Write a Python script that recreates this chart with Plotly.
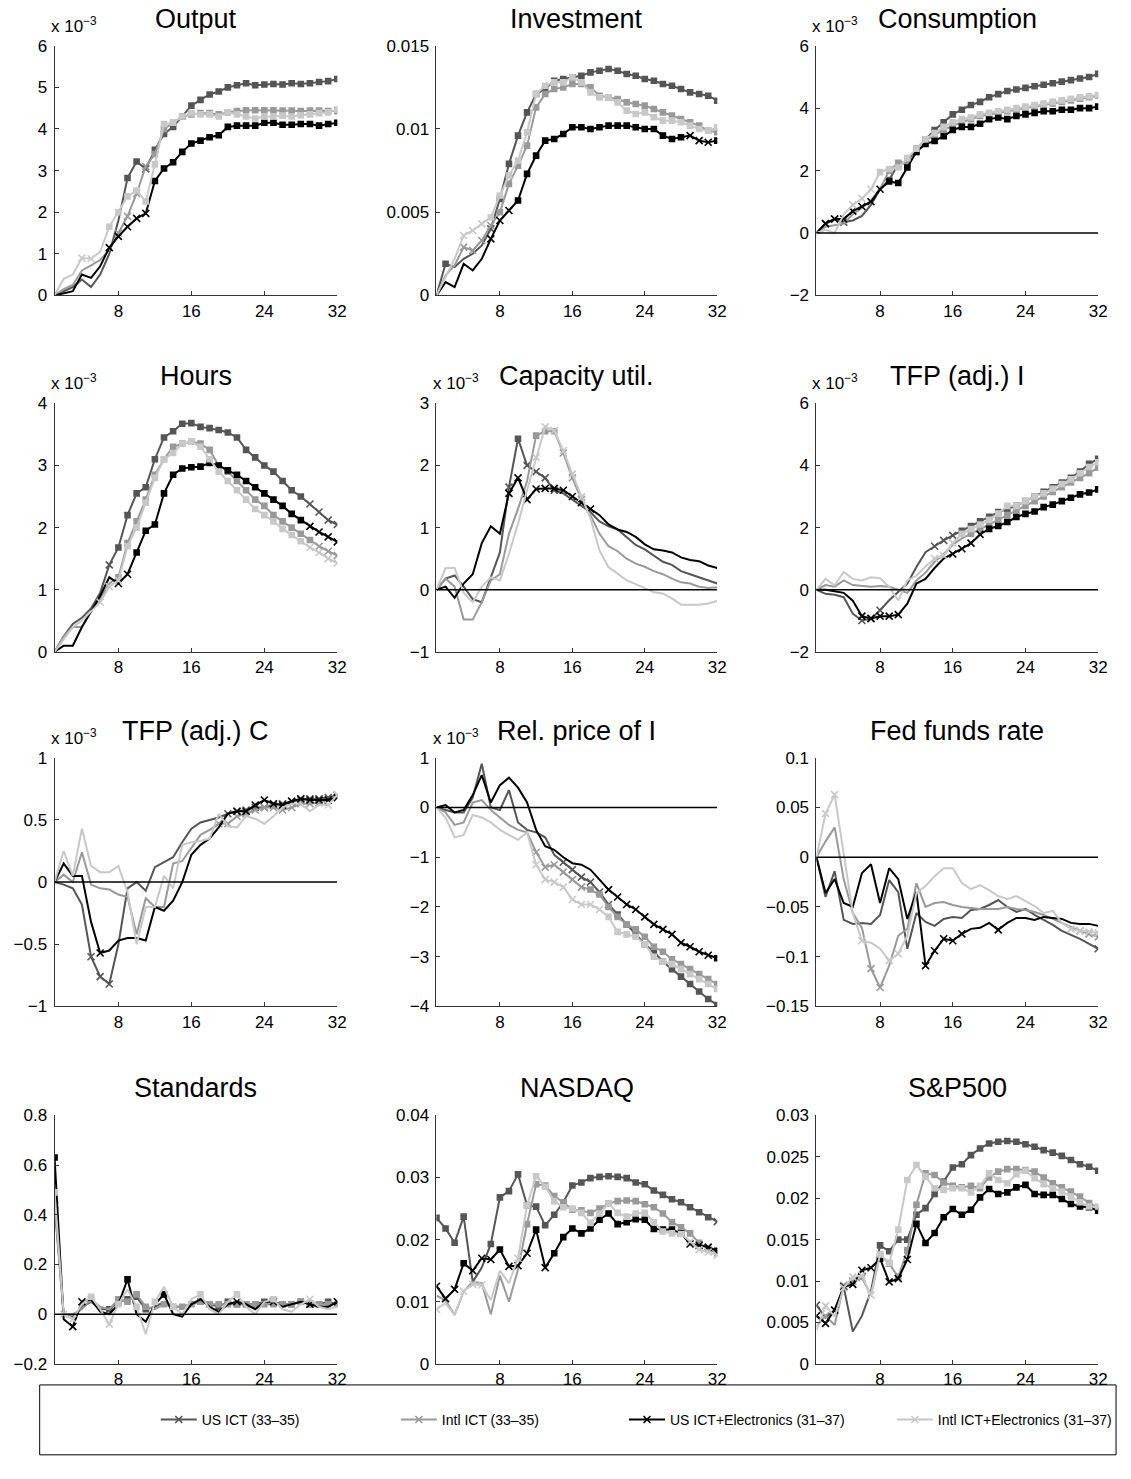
import plotly.graph_objects as go

# Canvas size in pixels
W, H = 1131, 1479

# The captured page is squeezed vertically (about 8 px of padding above and below),
# so vertical pixel positions are pre-compensated.
Y_OFFSET, Y_SCALE = 8.2, 0.9885


def px_x(p):
    return p / W


def px_y(p):
    return 1 - ((p - Y_OFFSET) / Y_SCALE) / H


periods = list(range(1, 33))

series_names = ["US ICT (33\u201335)", "Intl ICT (33\u201335)",
                "US ICT+Electronics (31\u201337)", "Intl ICT+Electronics (31\u201337)"]
series_colors = ["#555555", "#999999", "#000000", "#c8c8c8"]

# ---- Impulse responses (values in units of the axis labels; x 10^-3 where marked) ----
# Significance strings: 0 = not significant, 1 = weak (cross), 2 = strong (square)

output_us = [0, 0.1, 0.2, 0.38, 0.2, 0.5, 1.0, 1.8, 2.82, 3.22, 3.04, 3.5, 3.88, 4.05, 4.3, 4.56,
             4.7, 4.83, 4.9, 5.0, 5.05, 5.1, 5.05, 5.07, 5.08, 5.07, 5.1, 5.08, 5.1, 5.13, 5.15, 5.2]
output_intl = [0, 0.15, 0.25, 0.6, 0.72, 0.85, 1.1, 1.5, 1.9, 2.45, 3.1, 3.4, 4.0, 4.15, 4.3, 4.35,
               4.38, 4.38, 4.35, 4.4, 4.43, 4.45, 4.45, 4.45, 4.45, 4.44, 4.44, 4.43, 4.44, 4.44, 4.43, 4.43]
output_us_el = [0, 0.05, 0.1, 0.5, 0.42, 0.7, 1.15, 1.42, 1.65, 1.85, 1.97, 2.75, 3.05, 3.2, 3.45, 3.65,
                3.72, 3.8, 3.85, 4.05, 4.08, 4.08, 4.08, 4.15, 4.15, 4.1, 4.1, 4.12, 4.12, 4.08, 4.12, 4.15]
output_intl_el = [0, 0.4, 0.5, 0.9, 0.88, 1.05, 1.65, 2.0, 2.38, 2.52, 2.26, 3.15, 4.12, 4.15, 4.3, 4.38,
                  4.35, 4.35, 4.3, 4.4, 4.35, 4.3, 4.25, 4.3, 4.3, 4.32, 4.3, 4.33, 4.35, 4.38, 4.4, 4.47]
output_sig = ["00000000 22122222 22222222 22222222", "00000001 11122222 22222222 22222222",
              "00000011 11122222 22222222 22222222", "00011022 22222222 22222222 22222222"]

inv_us = [0, 0.0019, 0.0017, 0.0022, 0.0025, 0.0030, 0.0040, 0.0058, 0.0079, 0.0096, 0.0110, 0.0121,
          0.0124, 0.0129, 0.0130, 0.0131, 0.0132, 0.0134, 0.0135, 0.0136, 0.0135, 0.0133, 0.0132, 0.0130,
          0.0129, 0.0127, 0.0126, 0.0124, 0.0122, 0.0121, 0.0120, 0.0117]
inv_intl = [0, 0.0012, 0.0018, 0.0029, 0.0027, 0.0033, 0.0042, 0.0050, 0.0067, 0.0078, 0.0090, 0.0113,
            0.0121, 0.0124, 0.0125, 0.0127, 0.0127, 0.0125, 0.0120, 0.0119, 0.0118, 0.0116, 0.0115, 0.0114,
            0.0112, 0.0110, 0.0108, 0.0106, 0.0104, 0.0102, 0.0099, 0.0098]
inv_us_el = [0, 0.0008, 0.0005, 0.0019, 0.0015, 0.0022, 0.0034, 0.0045, 0.0051, 0.0057, 0.0073, 0.0084,
             0.0093, 0.0094, 0.0097, 0.0101, 0.0101, 0.0100, 0.0101, 0.0102, 0.0102, 0.0102, 0.0101, 0.0100,
             0.0100, 0.0096, 0.0094, 0.0095, 0.0096, 0.0093, 0.0092, 0.0093]
inv_intl_el = [0, 0.0011, 0.0022, 0.0036, 0.0039, 0.0043, 0.0047, 0.0060, 0.0072, 0.0081, 0.0098, 0.0121,
               0.0126, 0.0128, 0.0128, 0.0131, 0.0128, 0.0122, 0.0119, 0.0119, 0.0116, 0.0111, 0.0109, 0.0110,
               0.0107, 0.0105, 0.0105, 0.0104, 0.0102, 0.0100, 0.0099, 0.0101]
inv_sig = ["02000012 22222222 22222222 22222222", "00011112 22222222 22222222 22222222",
           "00000011 12222222 22222222 22221112", "00011122 22222222 22222222 22222222"]

cons_us = [0, 0.3, 0.45, 0.35, 0.4, 0.55, 0.9, 1.4, 1.7, 2.2, 2.3, 2.7, 3.0, 3.3, 3.55, 3.8,
           3.95, 4.1, 4.2, 4.35, 4.45, 4.55, 4.6, 4.65, 4.7, 4.75, 4.8, 4.85, 4.9, 4.95, 5.0, 5.1]
cons_intl = [0, 0.2, 0.25, 0.3, 0.6, 0.8, 1.05, 1.4, 2.0, 2.25, 2.2, 2.6, 2.95, 3.15, 3.3, 3.45,
             3.55, 3.65, 3.75, 3.8, 3.85, 3.9, 3.95, 4.0, 4.05, 4.1, 4.15, 4.2, 4.25, 4.3, 4.35, 4.4]
cons_us_el = [0, 0.3, 0.45, 0.45, 0.7, 0.85, 1.0, 1.4, 1.65, 1.6, 2.1, 2.6, 2.85, 2.95, 3.1, 3.3,
              3.4, 3.4, 3.5, 3.65, 3.7, 3.65, 3.75, 3.8, 3.85, 3.9, 3.9, 3.95, 3.95, 4.0, 4.0, 4.05]
cons_intl_el = [0, 0.1, 0.0, 0.6, 0.9, 1.1, 1.4, 1.95, 2.05, 2.1, 2.4, 2.7, 3.0, 3.2, 3.4, 3.55,
                3.65, 3.7, 3.8, 3.85, 3.9, 3.95, 4.0, 4.05, 4.1, 4.15, 4.2, 4.25, 4.3, 4.35, 4.38, 4.42]
cons_sig = ["01110000 22222222 22222222 22222222", "00000000 22222222 22222222 22222222",
            "01111111 22222222 22222222 22222222", "00001112 22222222 22222222 22222222"]

hours_us = [0, 0.25, 0.45, 0.55, 0.7, 0.95, 1.4, 1.68, 2.2, 2.55, 2.65, 3.1, 3.45, 3.55, 3.67, 3.68,
            3.62, 3.6, 3.57, 3.53, 3.45, 3.25, 3.13, 3.0, 2.9, 2.75, 2.6, 2.5, 2.38, 2.25, 2.12, 2.05]
hours_intl = [0, 0.25, 0.4, 0.4, 0.65, 0.85, 1.1, 1.2, 1.75, 2.1, 2.45, 2.85, 3.1, 3.3, 3.35, 3.38,
              3.35, 3.25, 3.0, 2.9, 2.75, 2.6, 2.45, 2.35, 2.2, 2.1, 2.0, 1.9, 1.8, 1.7, 1.62, 1.55]
hours_us_el = [0, 0.1, 0.1, 0.4, 0.65, 0.9, 1.2, 1.1, 1.25, 1.6, 1.95, 2.05, 2.55, 2.85, 2.95, 2.97,
               2.98, 3.04, 3.0, 2.92, 2.85, 2.75, 2.65, 2.55, 2.45, 2.35, 2.22, 2.12, 2.02, 1.93, 1.85, 1.77]
hours_intl_el = [0, 0.2, 0.4, 0.5, 0.65, 0.8, 1.05, 1.15, 1.7, 2.0, 2.4, 2.8, 3.1, 3.2, 3.35, 3.38,
                 3.3, 3.1, 2.9, 2.75, 2.6, 2.45, 2.3, 2.2, 2.1, 1.98, 1.88, 1.78, 1.68, 1.6, 1.5, 1.43]
hours_sig = ["00000012 22222222 22222222 22221111", "00000002 22222222 22222222 22222111",
             "00000001 12222222 22222222 22221111", "00000111 22222222 22222222 22221111"]

cap_us = [0, 0.18, 0.23, 0.05, -0.15, -0.2, 0.2, 0.6, 1.65, 2.43, 2.0, 1.9, 1.8, 1.6, 1.55, 1.45,
          1.35, 1.25, 1.1, 1.02, 0.97, 0.85, 0.72, 0.65, 0.55, 0.45, 0.4, 0.3, 0.25, 0.2, 0.15, 0.1]
cap_intl = [0, 0.18, 0.05, -0.48, -0.48, -0.2, 0.15, 0.25, 0.9, 1.3, 1.75, 2.48, 2.55, 2.55, 2.2, 1.8,
            1.45, 1.2, 0.9, 0.7, 0.62, 0.5, 0.42, 0.37, 0.3, 0.25, 0.18, 0.12, 0.1, 0.05, 0.03, 0.04]
cap_us_el = [0, 0.05, -0.13, 0.1, 0.25, 0.75, 1.02, 0.9, 1.55, 1.8, 1.45, 1.62, 1.63, 1.63, 1.6, 1.5,
             1.4, 1.3, 1.2, 1.05, 0.97, 0.93, 0.85, 0.73, 0.65, 0.63, 0.6, 0.52, 0.48, 0.46, 0.39, 0.35]
cap_intl_el = [0, 0.35, 0.35, -0.05, -0.2, 0.05, 0.2, 0.15, 0.58, 1.06, 1.6, 2.13, 2.62, 2.56, 2.24, 1.86,
               1.49, 1.15, 0.63, 0.36, 0.26, 0.15, 0.09, 0.02, -0.04, -0.06, -0.14, -0.24, -0.24, -0.24, -0.22, -0.18]
cap_sig = ["00000000 12111100 00000000 00000000", "00000000 00022211 10000000 00000000",
           "00000000 11111111 11000000 00000000", "00000000 00011111 10000000 00000000"]

tfpi_us = [0, -0.13, -0.16, -0.24, -0.77, -0.99, -0.93, -0.66, -0.34, -0.07, 0.2, 0.73, 1.21, 1.4, 1.59, 1.75,
           1.9, 2.05, 2.2, 2.35, 2.5, 2.6, 2.7, 2.85, 3.0, 3.15, 3.3, 3.45, 3.6, 3.8, 4.05, 4.21]
tfpi_intl = [0, 0.15, 0.1, 0.3, 0.15, 0.12, 0.1, 0.12, 0.1, 0.0, -0.1, 0.3, 0.55, 0.9, 1.15, 1.45,
             1.65, 1.8, 1.95, 2.1, 2.25, 2.4, 2.55, 2.7, 2.85, 3.0, 3.15, 3.3, 3.45, 3.6, 3.75, 3.93]
tfpi_us_el = [0, 0, -0.05, -0.1, -0.35, -0.85, -0.92, -0.85, -0.85, -0.8, -0.45, 0.2, 0.35, 0.7, 1.0, 1.15,
              1.32, 1.5, 1.78, 1.96, 2.05, 2.18, 2.34, 2.44, 2.52, 2.66, 2.74, 2.85, 2.96, 3.07, 3.13, 3.23]
tfpi_intl_el = [0, 0.35, 0.14, 0.57, 0.35, 0.3, 0.4, 0.37, 0.09, -0.34, 0.3, 0.45, 0.75, 1.0, 1.1, 1.5,
                1.8, 1.95, 2.1, 2.25, 2.45, 2.7, 2.7, 2.85, 3.0, 3.1, 3.25, 3.4, 3.55, 3.75, 3.95, 4.1]
tfpi_sig = ["00000111 00000111 22222222 22222222", "00000000 00000000 02222222 22222222",
            "00000111 11000001 11122222 22222222", "00000000 00000111 22222222 22222222"]

tfpc_us = [0, -0.02, -0.05, -0.18, -0.6, -0.76, -0.82, -0.5, -0.05, 0.0, -0.07, 0.12, 0.16, 0.2, 0.32, 0.43,
           0.48, 0.5, 0.52, 0.55, 0.57, 0.58, 0.6, 0.6, 0.62, 0.63, 0.65, 0.66, 0.67, 0.67, 0.68, 0.7]
tfpc_intl = [0, 0.06, 0.0, 0.24, -0.02, -0.05, -0.06, -0.1, -0.12, -0.42, -0.13, -0.2, -0.2, 0.15, 0.17, 0.28,
             0.38, 0.42, 0.47, 0.47, 0.53, 0.55, 0.58, 0.6, 0.6, 0.58, 0.6, 0.63, 0.63, 0.64, 0.66, 0.7]
tfpc_us_el = [0, 0.15, 0.05, 0.05, -0.32, -0.57, -0.55, -0.47, -0.45, -0.45, -0.47, -0.2, -0.23, -0.15, 0.0, 0.22,
              0.3, 0.35, 0.44, 0.55, 0.57, 0.57, 0.62, 0.66, 0.63, 0.62, 0.65, 0.67, 0.66, 0.66, 0.66, 0.68]
tfpc_intl_el = [0, 0.25, 0.05, 0.43, 0.13, 0.08, 0.08, 0.13, -0.08, -0.5, -0.2, -0.2, 0.05, -0.05, 0.3, 0.32,
                0.33, 0.35, 0.55, 0.45, 0.44, 0.53, 0.51, 0.47, 0.53, 0.6, 0.63, 0.63, 0.57, 0.62, 0.62, 0.7]
tfpc_sig = ["00001110 00000000 00011111 11111111", "00000000 00000000 00111111 11111111",
            "00000100 00000000 00001111 11111111", "00000000 00000000 00000000 00000011"]

rp_us = [0, -0.05, -0.1, -0.1, 0.2, 0.88, 0.0, -0.05, 0.35, -0.3, -0.45, -0.5, -0.6, -0.95, -1.1, -1.25,
         -1.4, -1.5, -1.7, -1.95, -2.15, -2.35, -2.55, -2.75, -2.9, -3.1, -3.25, -3.4, -3.55, -3.7, -3.85, -3.97]
rp_intl = [0, -0.1, -0.35, -0.3, 0.1, 0.15, -0.05, -0.2, -0.35, -0.45, -0.5, -0.9, -1.2, -1.15, -1.3, -1.45,
           -1.6, -1.65, -1.75, -2.0, -2.2, -2.35, -2.45, -2.6, -2.8, -2.9, -3.05, -3.15, -3.25, -3.35, -3.45, -3.55]
rp_us_el = [0, 0.05, -0.1, -0.05, 0.25, 0.65, 0.1, 0.45, 0.6, 0.4, 0.1, -0.45, -0.78, -0.85, -1.0, -1.12,
            -1.15, -1.25, -1.45, -1.65, -1.8, -1.95, -2.05, -2.2, -2.35, -2.45, -2.55, -2.72, -2.8, -2.9, -2.97, -3.03]
rp_intl_el = [0, -0.2, -0.6, -0.55, -0.15, -0.2, -0.3, -0.45, -0.55, -0.65, -0.5, -1.15, -1.45, -1.5, -1.6, -1.85,
              -1.95, -1.95, -2.05, -2.2, -2.5, -2.55, -2.6, -2.75, -3.0, -3.1, -3.15, -3.25, -3.35, -3.45, -3.55, -3.65]
rp_sig = ["00000000 00000011 11112222 22222222", "00000000 00011111 12222222 22222222",
          "00000000 00000000 00011111 11111112", "00000000 00011111 11122222 22222222"]

ff_us = [0, -0.04, -0.014, -0.063, -0.067, -0.066, -0.067, -0.058, -0.023, -0.035, -0.092, -0.056, -0.065,
         -0.069, -0.062, -0.06, -0.061, -0.053, -0.052, -0.048, -0.043, -0.05, -0.055, -0.052, -0.058, -0.063,
         -0.068, -0.074, -0.078, -0.082, -0.087, -0.092]
ff_intl = [0, 0.016, 0.03, -0.022, -0.056, -0.071, -0.112, -0.131, -0.109, -0.079, -0.072, -0.026, -0.05,
           -0.046, -0.045, -0.048, -0.05, -0.051, -0.052, -0.052, -0.052, -0.05, -0.052, -0.053, -0.055, -0.058,
           -0.062, -0.066, -0.07, -0.074, -0.077, -0.08]
ff_us_el = [0, -0.036, -0.022, -0.046, -0.05, -0.016, -0.007, -0.046, -0.011, -0.022, -0.062, -0.035, -0.109,
            -0.094, -0.082, -0.084, -0.077, -0.072, -0.071, -0.066, -0.073, -0.066, -0.061, -0.061, -0.063, -0.06,
            -0.061, -0.062, -0.066, -0.067, -0.067, -0.069]
ff_intl_el = [0, 0.044, 0.063, 0.004, -0.056, -0.084, -0.086, -0.092, -0.104, -0.097, -0.079, -0.036, -0.029,
              -0.019, -0.011, -0.011, -0.026, -0.032, -0.028, -0.033, -0.039, -0.042, -0.039, -0.044, -0.049,
              -0.056, -0.054, -0.066, -0.072, -0.074, -0.075, -0.076]
ff_sig = ["00000000 00000000 00000000 00000001", "00000011 00000000 00000000 00000111",
          "00000000 00001111 10001000 00000000", "01100100 11000000 00000000 00001111"]

std_us = [0.44, 0.0, -0.01, 0.03, 0.05, 0.02, 0.02, 0.05, 0.06, 0.07, 0.02, 0.03, 0.05, 0.03, 0.03, 0.04,
          0.05, 0.04, 0.03, 0.05, 0.04, 0.04, 0.04, 0.05, 0.05, 0.04, 0.04, 0.05, 0.04, 0.04, 0.05, 0.04]
std_intl = [0.45, 0.0, 0.0, 0.02, 0.06, 0.03, 0.02, 0.06, 0.05, 0.08, 0.03, 0.02, 0.04, 0.03, 0.03, 0.04,
            0.05, 0.04, 0.04, 0.04, 0.04, 0.04, 0.04, 0.04, 0.04, 0.04, 0.04, 0.05, 0.04, 0.04, 0.04, 0.04]
std_us_el = [0.63, -0.02, -0.05, 0.05, 0.06, 0.01, 0.0, 0.04, 0.14, 0.0, -0.03, 0.04, 0.08, 0.0, -0.01, 0.04,
             0.06, 0.03, 0.01, 0.04, 0.05, 0.04, 0.02, 0.05, 0.05, 0.03, 0.04, 0.05, 0.04, 0.03, 0.03, 0.05]
std_intl_el = [0.49, 0.0, -0.02, 0.04, 0.07, 0.02, -0.04, 0.04, 0.1, 0.03, -0.08, 0.05, 0.11, 0.03, 0.0, 0.06,
               0.08, 0.02, 0.0, 0.05, 0.08, 0.03, 0.0, 0.05, 0.06, 0.02, 0.01, 0.04, 0.06, 0.03, 0.02, 0.03]
std_sig = ["10000022 22200000 22222222 22222222", "20002002 22202222 22222222 22222222",
           "20110000 20002000 00001000 10001001", "21102012 02020200 20002000 20001000"]

nas_us = [0.0235, 0.0218, 0.0195, 0.0237, 0.0132, 0.0155, 0.0193, 0.0268, 0.0278, 0.0305, 0.0255, 0.0253,
          0.0223, 0.024, 0.026, 0.0287, 0.0292, 0.0299, 0.0301, 0.0302, 0.0301, 0.0299, 0.0292, 0.0289,
          0.0279, 0.0272, 0.0265, 0.026, 0.0252, 0.0244, 0.0236, 0.0229]
nas_intl = [0.011, 0.0102, 0.0079, 0.0117, 0.0132, 0.013, 0.008, 0.0142, 0.01, 0.0152, 0.0225, 0.0289,
            0.0287, 0.027, 0.026, 0.0248, 0.0247, 0.0243, 0.025, 0.0258, 0.0262, 0.0263, 0.0262, 0.0257,
            0.0252, 0.0242, 0.0228, 0.022, 0.021, 0.0195, 0.0185, 0.0178]
nas_us_el = [0.0125, 0.0105, 0.012, 0.0162, 0.015, 0.017, 0.0168, 0.0184, 0.0157, 0.0158, 0.0178, 0.0216,
             0.0155, 0.0178, 0.0204, 0.0218, 0.021, 0.0218, 0.0232, 0.0242, 0.0225, 0.0228, 0.0233, 0.0232,
             0.0217, 0.0216, 0.0216, 0.021, 0.0193, 0.0191, 0.0188, 0.0182]
nas_intl_el = [0.0088, 0.0098, 0.0079, 0.0117, 0.0128, 0.0127, 0.0103, 0.015, 0.013, 0.017, 0.0255, 0.0302,
               0.0285, 0.0262, 0.0252, 0.025, 0.0243, 0.0227, 0.0242, 0.0258, 0.0243, 0.0237, 0.0242, 0.0243,
               0.0228, 0.0213, 0.021, 0.0209, 0.0197, 0.0184, 0.018, 0.0175]
nas_sig = ["22220022 22222222 22222222 22222221", "00000000 00222222 22222222 22222222",
           "11121112 11121222 22222222 22221112", "10011100 01222222 22222222 22221111"]

sp_us = [0.0071, 0.0056, 0.0065, 0.0093, 0.0039, 0.0058, 0.0088, 0.0143, 0.0136, 0.015, 0.015, 0.018,
         0.0188, 0.0205, 0.022, 0.0237, 0.0241, 0.0252, 0.026, 0.0266, 0.0268, 0.0269, 0.0268, 0.0265,
         0.0262, 0.0258, 0.0255, 0.0251, 0.0246, 0.0241, 0.0238, 0.0233]
sp_intl = [0.0045, 0.0058, 0.0047, 0.0095, 0.01, 0.0104, 0.0083, 0.0132, 0.0121, 0.0105, 0.0137, 0.0192,
           0.023, 0.0228, 0.0219, 0.0215, 0.0213, 0.0215, 0.0212, 0.0225, 0.0232, 0.0235, 0.0235, 0.0234,
           0.0232, 0.0225, 0.0218, 0.0213, 0.0208, 0.0202, 0.0194, 0.0189]
sp_us_el = [0.0058, 0.0049, 0.0065, 0.0093, 0.0096, 0.0113, 0.0116, 0.0127, 0.0099, 0.0103, 0.0126, 0.0169,
            0.0146, 0.0158, 0.0177, 0.0187, 0.018, 0.0186, 0.0201, 0.0211, 0.0205, 0.0207, 0.0213, 0.0216,
            0.0205, 0.0204, 0.0204, 0.0199, 0.0193, 0.019, 0.0189, 0.0185]
sp_intl_el = [0.0041, 0.007, 0.0057, 0.0092, 0.0105, 0.0107, 0.0083, 0.0132, 0.0122, 0.0162, 0.0222, 0.024,
              0.0226, 0.0212, 0.021, 0.0212, 0.0212, 0.0207, 0.0215, 0.023, 0.0222, 0.0218, 0.0229, 0.0233,
              0.0224, 0.0217, 0.0212, 0.0208, 0.0202, 0.0195, 0.019, 0.019]
sp_sig = ["10000002 22222222 22222222 22222222", "01011102 22222222 22222222 22222222",
          "11111112 11122222 22222222 22222222", "01011112 22222222 22222222 22222222"]

M = "\u2212"

# Panel table: title, series, significance, y-range, y tick values/labels, exponent label
panels = [
    ("Output", [output_us, output_intl, output_us_el, output_intl_el], output_sig,
     (0, 6), [0, 1, 2, 3, 4, 5, 6], ["0", "1", "2", "3", "4", "5", "6"], True),
    ("Investment", [inv_us, inv_intl, inv_us_el, inv_intl_el], inv_sig,
     (0, 0.015), [0, 0.005, 0.01, 0.015], ["0", "0.005", "0.01", "0.015"], False),
    ("Consumption", [cons_us, cons_intl, cons_us_el, cons_intl_el], cons_sig,
     (-2, 6), [-2, 0, 2, 4, 6], [M + "2", "0", "2", "4", "6"], True),
    ("Hours", [hours_us, hours_intl, hours_us_el, hours_intl_el], hours_sig,
     (0, 4), [0, 1, 2, 3, 4], ["0", "1", "2", "3", "4"], True),
    ("Capacity util.", [cap_us, cap_intl, cap_us_el, cap_intl_el], cap_sig,
     (-1, 3), [-1, 0, 1, 2, 3], [M + "1", "0", "1", "2", "3"], True),
    ("TFP (adj.) I", [tfpi_us, tfpi_intl, tfpi_us_el, tfpi_intl_el], tfpi_sig,
     (-2, 6), [-2, 0, 2, 4, 6], [M + "2", "0", "2", "4", "6"], True),
    ("TFP (adj.) C", [tfpc_us, tfpc_intl, tfpc_us_el, tfpc_intl_el], tfpc_sig,
     (-1, 1), [-1, -0.5, 0, 0.5, 1], [M + "1", M + "0.5", "0", "0.5", "1"], True),
    ("Rel. price of I", [rp_us, rp_intl, rp_us_el, rp_intl_el], rp_sig,
     (-4, 1), [-4, -3, -2, -1, 0, 1], [M + "4", M + "3", M + "2", M + "1", "0", "1"], True),
    ("Fed funds rate", [ff_us, ff_intl, ff_us_el, ff_intl_el], ff_sig,
     (-0.15, 0.1), [-0.15, -0.1, -0.05, 0, 0.05, 0.1],
     [M + "0.15", M + "0.1", M + "0.05", "0", "0.05", "0.1"], False),
    ("Standards", [std_us, std_intl, std_us_el, std_intl_el], std_sig,
     (-0.2, 0.8), [-0.2, 0, 0.2, 0.4, 0.6, 0.8], [M + "0.2", "0", "0.2", "0.4", "0.6", "0.8"], False),
    ("NASDAQ", [nas_us, nas_intl, nas_us_el, nas_intl_el], nas_sig,
     (0, 0.04), [0, 0.01, 0.02, 0.03, 0.04], ["0", "0.01", "0.02", "0.03", "0.04"], False),
    ("S&P500", [sp_us, sp_intl, sp_us_el, sp_intl_el], sp_sig,
     (0, 0.03), [0, 0.005, 0.01, 0.015, 0.02, 0.025, 0.03],
     ["0", "0.005", "0.01", "0.015", "0.02", "0.025", "0.03"], False),
]

# Pixel boxes of the plot areas
col_px = [(55, 340), (440, 723), (823, 1107)]
row_px = [(45, 295), (403, 652), (758, 1007), (1116, 1365)]

FONT = "Liberation Sans, Arial, Helvetica, sans-serif"
AXIS_COLOR = "#333333"
TICK_SIZE = 17
TITLE_SIZE = 27


def levels(code):
    digits = [int(ch) for ch in code.replace(" ", "")]
    return (digits + [0] * 32)[:32]


fig = go.Figure()
annotations = []
shapes = []
layout = {}

for k, (title, series, sigs, yr, yvals, ytext, expo) in enumerate(panels):
    r, c = divmod(k, 3)
    n = k + 1
    xname = "x" if n == 1 else f"x{n}"
    yname = "y" if n == 1 else f"y{n}"
    (x0p, x1p), (y0p, y1p) = col_px[c], row_px[r]

    for s in range(4):
        vals = series[s]
        col = series_colors[s]
        fig.add_trace(go.Scatter(x=periods, y=vals, mode="lines",
                                 line=dict(color=col, width=2),
                                 xaxis=xname, yaxis=yname, showlegend=False, hoverinfo="skip"))
        lv = levels(sigs[s])
        for level, sym, size in [(1, "x-thin-open", 7), (2, "square", 5)]:
            idx = [i for i in range(32) if lv[i] == level]
            if not idx:
                continue
            fig.add_trace(go.Scatter(x=[periods[i] for i in idx], y=[vals[i] for i in idx],
                                     mode="markers",
                                     marker=dict(symbol=sym, size=size, color=col,
                                                 line=dict(color=col, width=1.6)),
                                     xaxis=xname, yaxis=yname, showlegend=False, hoverinfo="skip"))

    if yr[0] < 0:
        shapes.append(dict(type="line", xref=xname, yref=yname, x0=1, x1=32, y0=0, y1=0,
                           line=dict(color="black", width=1.5), layer="above"))

    layout["xaxis" if n == 1 else f"xaxis{n}"] = dict(
        domain=[px_x(x0p), px_x(x1p)], range=[1, 32], tickvals=[8, 16, 24, 32],
        ticktext=["8", "16", "24", "32"], ticks="inside", ticklen=4, tickcolor=AXIS_COLOR,
        showline=True, linecolor=AXIS_COLOR, linewidth=1, showgrid=False, zeroline=False,
        anchor=yname, tickfont=dict(family=FONT, size=TICK_SIZE, color="black"), fixedrange=True)
    layout["yaxis" if n == 1 else f"yaxis{n}"] = dict(
        domain=[px_y(y1p), px_y(y0p)], range=list(yr), tickvals=yvals, ticktext=ytext,
        ticks="inside", ticklen=4, tickcolor=AXIS_COLOR, ticklabelstandoff=3,
        showline=True, linecolor=AXIS_COLOR, linewidth=1, showgrid=False, zeroline=False,
        anchor=xname, tickfont=dict(family=FONT, size=TICK_SIZE, color="black"), fixedrange=True)

    annotations.append(dict(text=title, xref="paper", yref="paper",
                            x=px_x((x0p + x1p) / 2), y=px_y(y0p - 27),
                            xanchor="center", yanchor="middle", showarrow=False,
                            font=dict(family=FONT, size=TITLE_SIZE, color="black")))
    if expo:
        annotations.append(dict(text="x 10<sup>\u22123</sup>", xref="paper", yref="paper",
                                x=px_x(x0p - 6), y=px_y(y0p - 8),
                                xanchor="left", yanchor="bottom", showarrow=False,
                                font=dict(family=FONT, size=TICK_SIZE, color="black")))

# Legend entries, each in its own legend box so they sit at fixed positions
legend_px = [163, 405, 635, 905]
for s in range(4):
    lname = "legend" if s == 0 else f"legend{s + 1}"
    fig.add_trace(go.Scatter(x=[None], y=[None], mode="lines+markers", name=series_names[s],
                             line=dict(color=series_colors[s], width=2),
                             marker=dict(symbol="x-thin-open", size=7, color=series_colors[s],
                                         line=dict(color=series_colors[s], width=1.6)),
                             showlegend=True, legend=lname))
    layout[lname] = dict(x=px_x(legend_px[s] - 6), y=px_y(1421), xanchor="left", yanchor="middle",
                         bgcolor="rgba(0,0,0,0)", borderwidth=0, itemwidth=36,
                         font=dict(family=FONT, size=14, color="black"))

shapes.append(dict(type="rect", xref="paper", yref="paper",
                   x0=px_x(40), x1=px_x(1125), y0=px_y(1456), y1=px_y(1386),
                   line=dict(color="black", width=1), fillcolor="rgba(0,0,0,0)"))

fig.update_layout(width=W, height=H, margin=dict(l=0, r=0, t=0, b=0),
                  paper_bgcolor="white", plot_bgcolor="white",
                  annotations=annotations, shapes=shapes, **layout)

fig.write_html("out.html")
